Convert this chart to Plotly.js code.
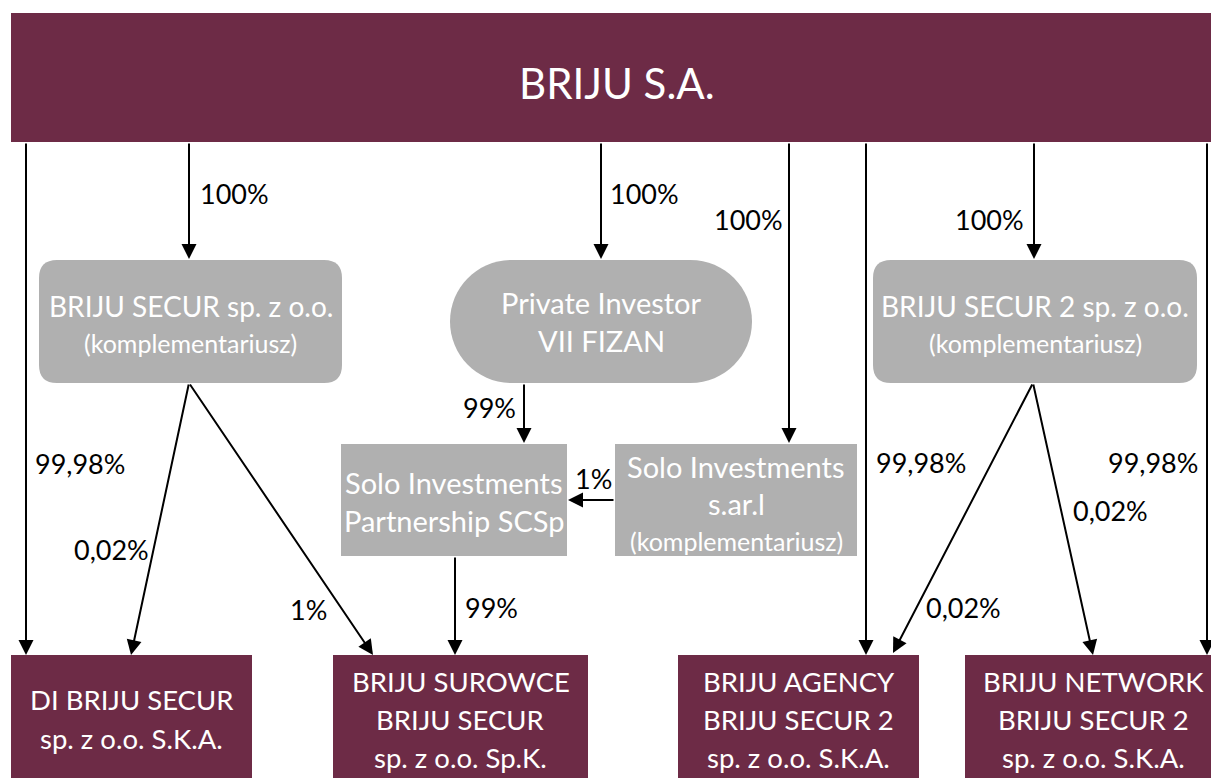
<!DOCTYPE html>
<html>
<head>
<meta charset="utf-8">
<script src="https://cdn.plot.ly/plotly-3.0.1.min.js"></script>
<style>html,body{margin:0;padding:0;background:#fff;}#chart{width:1211px;height:778px;}</style>
</head>
<body>
<div id="chart"></div>
<script>
// ---- data: entities and ownership shares ----
const nodeNames = [
  ['BRIJU S.A.'],
  ['BRIJU SECUR sp. z o.o.'],
  ['Private Investor', 'VII FIZAN'],
  ['BRIJU SECUR 2 sp. z o.o.'],
  ['Solo Investments', 'Partnership SCSp'],
  ['Solo Investments', 's.ar.l'],
  ['DI BRIJU SECUR', 'sp. z o.o. S.K.A.'],
  ['BRIJU SUROWCE', 'BRIJU SECUR', 'sp. z o.o. Sp.K.'],
  ['BRIJU AGENCY', 'BRIJU SECUR 2', 'sp. z o.o. S.K.A.'],
  ['BRIJU NETWORK', 'BRIJU SECUR 2', 'sp. z o.o. S.K.A.']
];
const nodeNotes = ['', '(komplementariusz)', '', '(komplementariusz)', '', '(komplementariusz)', '', '', '', ''];
const edgeFrom = [0, 0, 0, 0, 0, 0, 0, 1, 1, 2, 5, 4, 3, 3];
const edgeTo   = [6, 1, 2, 5, 8, 3, 9, 6, 7, 4, 4, 7, 8, 9];
const edgeShares = ['99,98%', '100%', '100%', '100%', '99,98%', '100%', '99,98%',
                    '0,02%', '1%', '99%', '1%', '99%', '0,02%', '0,02%'];

// ---- layout geometry (pixels, y downward) ----
const nodeBox = [ // x0, y0, x1, y1
  [11, 13, 1215, 142],
  [39, 260, 342, 383],
  [450, 260, 752, 383],
  [873, 260, 1197, 383],
  [341, 444, 567, 556],
  [615, 444, 857, 556],
  [11, 655, 252, 785],
  [333, 655, 588, 785],
  [678, 655, 919, 785],
  [965, 655, 1215, 785]
];
const nodeShape = ['rect', 'round', 'stadium', 'round', 'rect', 'rect', 'rect', 'rect', 'rect', 'rect'];
const nodeFill = ['#6D2B46', '#B0B0B0', '#B0B0B0', '#B0B0B0', '#B0B0B0', '#B0B0B0', '#6D2B46', '#6D2B46', '#6D2B46', '#6D2B46'];
const nodeLineY = [[83], [306], [302, 340], [306], [482, 520], [466, 503], [699, 738], [681, 719, 757], [681, 719, 757], [681, 719, 757]];
const nodeNoteY = [0, 343, 0, 343, 0, 541, 0, 0, 0, 0];
const nodeFont = [42, 28, 29, 28, 29, 29, 27.5, 27.5, 27.5, 27.5];
const edgeTail = [[26,142],[189,142],[601,142],[789,142],[866,142],[1034,142],[1207,142],
                  [189,383],[189,383],[524,383],[615,500],[455,556],[1033,383],[1033,383]];
const edgeHead = [[26,655],[189,259],[601,259],[789,443],[866,655],[1034,259],[1207,655],
                  [131,655],[373,655],[524,443],[568,500],[455,655],[893,653],[1093,655]];
const edgeLabelPos = [[80,463],[234,193],[644,193],[748,219],[921,462],[989,219],[1153,462],
                      [111,549],[308,609],[489,407],[593,478],[491,607],[963,607],[1110,510]];

const FONT = 'Lato, "Open Sans", sans-serif';

function roundRect(b, r) {
  const [x0, y0, x1, y1] = b;
  return `M ${x0 + r} ${y0} L ${x1 - r} ${y0} Q ${x1} ${y0} ${x1} ${y0 + r} L ${x1} ${y1 - r} Q ${x1} ${y1} ${x1 - r} ${y1} ` +
         `L ${x0 + r} ${y1} Q ${x0} ${y1} ${x0} ${y1 - r} L ${x0} ${y0 + r} Q ${x0} ${y0} ${x0 + r} ${y0} Z`;
}
function stadium(b) {
  const [x0, y0, x1, y1] = b;
  const r = (y1 - y0) / 2;
  const k = 0.5523 * r;
  return `M ${x0 + r} ${y0} L ${x1 - r} ${y0} C ${x1 - r + k} ${y0} ${x1} ${y0 + r - k} ${x1} ${y0 + r} ` +
         `C ${x1} ${y0 + r + k} ${x1 - r + k} ${y1} ${x1 - r} ${y1} L ${x0 + r} ${y1} ` +
         `C ${x0 + r - k} ${y1} ${x0} ${y0 + r + k} ${x0} ${y0 + r} C ${x0} ${y0 + r - k} ${x0 + r - k} ${y0} ${x0 + r} ${y0} Z`;
}

const shapes = [];
const annotations = [];

nodeBox.forEach((b, i) => {
  if (nodeShape[i] === 'rect') {
    shapes.push({type: 'rect', xref: 'x', yref: 'y', x0: b[0], y0: b[1], x1: b[2], y1: b[3],
                 fillcolor: nodeFill[i], line: {width: 0}, layer: 'below'});
  } else {
    const p = nodeShape[i] === 'round' ? roundRect(b, 18) : stadium(b);
    shapes.push({type: 'path', xref: 'x', yref: 'y', path: p, fillcolor: nodeFill[i], line: {width: 0}, layer: 'below'});
  }
  const cx = (b[0] + b[2]) / 2;
  const cxText = i === 0 ? 617 : (i === 9 ? 1093 : cx);
  nodeNames[i].forEach((t, j) => {
    annotations.push({x: cxText, y: nodeLineY[i][j], xref: 'x', yref: 'y', text: t, showarrow: false,
                      font: {family: FONT, size: nodeFont[i], color: '#ffffff'}, xanchor: 'center', yanchor: 'middle'});
  });
  if (nodeNotes[i]) {
    annotations.push({x: cx, y: nodeNoteY[i], xref: 'x', yref: 'y', text: nodeNotes[i], showarrow: false,
                      font: {family: FONT, size: 25, color: '#ffffff'}, xanchor: 'center', yanchor: 'middle'});
  }
});

edgeShares.forEach((s, i) => {
  const t = edgeTail[i], h = edgeHead[i];
  annotations.push({x: h[0], y: h[1], ax: t[0], ay: t[1], xref: 'x', yref: 'y', axref: 'x', ayref: 'y',
                    text: '', showarrow: true, arrowhead: 2, arrowsize: 1.5, arrowwidth: 2, arrowcolor: '#000000',
                    standoff: 0, startstandoff: 0});
  annotations.push({x: edgeLabelPos[i][0], y: edgeLabelPos[i][1], xref: 'x', yref: 'y', text: s, showarrow: false,
                    font: {family: FONT, size: 27, color: '#000000'}, xanchor: 'center', yanchor: 'middle'});
});

const layout = {
  width: 1211, height: 778,
  margin: {l: 0, r: 0, t: 0, b: 0},
  paper_bgcolor: '#ffffff', plot_bgcolor: '#ffffff',
  xaxis: {range: [0, 1211], visible: false, fixedrange: true},
  yaxis: {range: [778, 0], visible: false, fixedrange: true},
  shapes: shapes,
  annotations: annotations,
  showlegend: false
};

Plotly.newPlot('chart', [{x: [], y: [], type: 'scatter', mode: 'markers', hoverinfo: 'skip'}], layout, {displayModeBar: false, staticPlot: true});
</script>
</body>
</html>
